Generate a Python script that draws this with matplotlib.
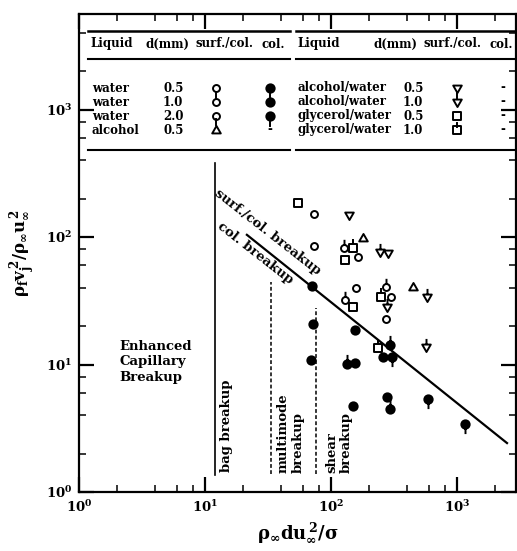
import math

import matplotlib
matplotlib.use("Agg")
import matplotlib.pyplot as plt
from matplotlib.lines import Line2D
from matplotlib.path import Path
from matplotlib.ticker import LogLocator, NullFormatter, FuncFormatter
from matplotlib.transforms import Affine2D

# ---- data (x = rho_g d u^2 / sigma, y = rho_f v_j^2 / rho_g u^2)
W05_SURF_X = [73.3, 73.3, 164, 158, 299, 273]
W05_SURF_Y = [151, 85, 70, 39.8, 33.8, 22.7]
W10_SURF_X = [127, 129, 273]
W10_SURF_Y = [82, 32, 40.5]
W05_COL_X = [70.7, 155, 259, 155, 69.4, 71.9, 278, 150]
W05_COL_Y = [41.3, 18.6, 11.5, 10.3, 10.8, 20.8, 5.56, 4.73]
W10_COL_X = [294, 134, 294]
W10_COL_Y = [14.2, 10.1, 4.48]
W20_COL_X = [305, 589, 1156]
W20_COL_Y = [11.5, 5.36, 3.41]
ALC05_X = [179, 448]
ALC05_Y = [98, 40.5]
AW05_X = [139, 283]
AW05_Y = [149, 75]
AW10_X = [245, 278, 578, 568]
AW10_Y = [76, 28.3, 33.8, 13.7]
GW05_X = [54.7, 129, 150]
GW05_Y = [185, 66, 28]
GW10_X = [150, 249, 236]
GW10_Y = [82, 33.8, 13.5]

BREAKUP_LINE_X = [21.5, 2494]
BREAKUP_LINE_Y = [104, 2.42]
BAG_X = 12.0
BAG_Y = [1.36, 380]
MULTI_LEFT_X = 33.4
MULTI_LEFT_Y = [1.38, 44.4]
MULTI_RIGHT_X = 76.0
MULTI_RIGHT_Y = [1.38, 27.7]

LEFT_LIQUIDS = ["water", "water", "water", "alcohol"]
LEFT_D = ["0.5", "1.0", "2.0", "0.5"]
LEFT_SURF = ["w05s", "w10s", "w20s", "alc"]
LEFT_COL = ["w05c", "w10c", "w20c", None]
RIGHT_LIQUIDS = ["alcohol/water", "alcohol/water", "glycerol/water", "glycerol/water"]
RIGHT_D = ["0.5", "1.0", "0.5", "1.0"]
RIGHT_SURF = ["aw05", "aw10", "gw05", "gw10"]

W, H = 517, 551
FONT = "DejaVu Serif"

plt.rcParams["font.family"] = FONT
plt.rcParams["font.weight"] = "bold"
plt.rcParams["mathtext.fontset"] = "dejavuserif"
plt.rcParams["mathtext.default"] = "bf"


def closed(verts):
    codes = [Path.MOVETO] + [Path.LINETO] * (len(verts) - 2) + [Path.CLOSEPOLY]
    return Path(verts, codes)


CIRCLE = Path.unit_circle()
TRI_UP = closed([(0, 1), (-0.95, -0.65), (0.95, -0.65), (0, 1)])
TRI_DN = closed([(0, -1), (-0.95, 0.65), (0.95, 0.65), (0, -1)])
SQUARE = closed([(-0.85, -0.85), (0.85, -0.85), (0.85, 0.85), (-0.85, 0.85), (-0.85, -0.85)])

# key -> (shape, filled, size, stem): stem = (start, end) in shape units, None = no stem
MARKERS = {
    "w05s": (CIRCLE, False, 5.0, None),
    "w10s": (CIRCLE, False, 5.0, (1, 2.5)),
    "w20s": (CIRCLE, False, 5.0, (-1, -2.5)),
    "w05c": (CIRCLE, True, 6.0, None),
    "w10c": (CIRCLE, True, 6.0, (1, 2.3)),
    "w20c": (CIRCLE, True, 6.0, (-1, -2.3)),
    "alc": (TRI_UP, False, 6.5, None),
    "aw05": (TRI_DN, False, 6.5, None),
    "aw10": (TRI_DN, False, 6.5, (0.65, 1.9)),
    "gw05": (SQUARE, False, 6.0, None),
    "gw10": (SQUARE, False, 6.0, (0.85, 2.1)),
}


def marker_kw(key, with_stem=True):
    shape, filled, size, st = MARKERS[key]
    path = shape
    if with_stem and st:
        path = Path.make_compound_path(
            shape, Path([(0, st[0]), (0, st[1])], [Path.MOVETO, Path.LINETO]))
    extent = abs(path.vertices).max()
    return dict(marker=path, markersize=size * extent, linestyle="none",
                markerfacecolor="black" if filled else "white",
                markeredgecolor="black", markeredgewidth=1.4)


fig = plt.figure(figsize=(W / 100, H / 100), dpi=100)
ax = fig.add_axes([79 / W, 1 - 492 / H, (516 - 79) / W, (492 - 14) / H])
px = Affine2D().scale(1 / W, -1 / H).translate(0, 1) + fig.transFigure


def legend_key(x, y, key):
    """Table symbol at image pixel (x, y); stem drawn as its own segment."""
    shape, filled, size, st = MARKERS[key]
    fig.add_artist(Line2D([x], [y], transform=px, zorder=5, **marker_kw(key, with_stem=False)))
    if st:
        half = size * fig.dpi / 72 / 2 * abs(shape.vertices).max()
        y0, y1 = y - st[0] * half, y - st[1] * half
        fig.add_artist(Line2D([x, x], [y0, y1], transform=px, color="black",
                              lw=1.4, zorder=5))


ax.set_xscale("log")
ax.set_yscale("log")
ax.set_xlim(1, 10 ** ((516 - 79) / 126))
ax.set_ylim(1, 10 ** ((492 - 14) / 127.5))

# regime boundaries
ax.plot(BREAKUP_LINE_X, BREAKUP_LINE_Y, color="black", lw=1.6, zorder=2)
ax.plot([BAG_X, BAG_X], BAG_Y, color="black", lw=1.2, zorder=2)
ax.plot([MULTI_LEFT_X] * 2, MULTI_LEFT_Y, color="black", lw=1.1, ls=(0, (2.5, 1.5)), zorder=2)
ax.plot([MULTI_RIGHT_X] * 2, MULTI_RIGHT_Y, color="black", lw=1.1, ls=(0, (2.5, 1.5)), zorder=2)

series = [
    (W05_SURF_X, W05_SURF_Y, "w05s"), (W10_SURF_X, W10_SURF_Y, "w10s"),
    (W05_COL_X, W05_COL_Y, "w05c"), (W10_COL_X, W10_COL_Y, "w10c"),
    (W20_COL_X, W20_COL_Y, "w20c"), (ALC05_X, ALC05_Y, "alc"),
    (AW05_X, AW05_Y, "aw05"), (AW10_X, AW10_Y, "aw10"),
    (GW05_X, GW05_Y, "gw05"), (GW10_X, GW10_Y, "gw10"),
]
for xs, ys, key in series:
    ax.plot(xs, ys, zorder=3, **marker_kw(key))

# region labels
ax.text(2.08, 10.5, "Enhanced\nCapillary\nBreakup", ha="left", va="center",
        fontsize=9.5, linespacing=1.25)
ax.text(13.2, 1.44, "bag breakup", rotation=90, ha="left", va="bottom", fontsize=9.5)
ax.text(37.3, 1.42, "multimode\nbreakup", rotation=90, ha="left", va="bottom",
        fontsize=9.5, linespacing=1.15)
ax.text(89.6, 1.40, "shear\nbreakup", rotation=90, ha="left", va="bottom",
        fontsize=9.5, linespacing=1.15)
ax.text(31.6, 110, "surf./col. breakup", rotation=-38, ha="center", va="center",
        fontsize=9.5, rotation_mode="anchor")
ax.text(25.0, 75, "col. breakup", rotation=-38, ha="center", va="center",
        fontsize=9.5, rotation_mode="anchor")

# axes styling
for side in ax.spines.values():
    side.set_linewidth(1.6)
ax.xaxis.set_minor_locator(LogLocator(base=10, subs=[2, 4, 6, 8]))
ax.yaxis.set_minor_locator(LogLocator(base=10, subs=[2, 4, 6, 8]))
ax.xaxis.set_minor_formatter(NullFormatter())
ax.yaxis.set_minor_formatter(NullFormatter())
fmt = FuncFormatter(lambda v, _: r"$\mathbf{10^{%d}}$" % round(math.log10(v)))
ax.xaxis.set_major_formatter(fmt)
ax.yaxis.set_major_formatter(fmt)
ax.tick_params(which="both", direction="in", top=True, right=True, labelsize=9.5)
ax.tick_params(which="major", length=11, width=1.6, pad=5)
ax.tick_params(which="minor", length=5, width=1.1)
ax.set_xlabel(r"$\rho_\infty du_\infty^{\,2}/\sigma$", fontsize=13, labelpad=4)
ax.set_ylabel(r"$\rho_f v_j^{\,2}/\rho_\infty u_\infty^{\,2}$", fontsize=12, labelpad=6)

# ---- table legend inside the plot (image pixel coordinates)
TS = 8.5
for x0, x1 in [(88, 290), (296, 517)]:
    for yy, lw in [(31, 1.8), (59, 1.5), (150, 1.5)]:
        fig.add_artist(Line2D([x0, x1], [yy, yy], transform=px, color="black", lw=lw))

for x, s in [(90, "Liquid"), (145, "d(mm)"), (195, "surf./col."), (262, "col."),
             (297, "Liquid"), (373, "d(mm)"), (423, "surf./col."), (490, "col.")]:
    fig.text(x, 44, s, transform=px, ha="left", va="center", fontsize=TS)

row_y = [88, 102, 116, 130]
for i, y in enumerate(row_y):
    fig.text(92, y, LEFT_LIQUIDS[i], transform=px, ha="left", va="center", fontsize=TS)
    fig.text(163, y, LEFT_D[i], transform=px, ha="left", va="center", fontsize=TS)
    legend_key(216, y, LEFT_SURF[i])
    if LEFT_COL[i]:
        legend_key(270, y, LEFT_COL[i])
    else:
        fig.text(270, y, "-", transform=px, ha="center", va="center", fontsize=TS)

    fig.text(297, y, RIGHT_LIQUIDS[i], transform=px, ha="left", va="center", fontsize=TS)
    fig.text(403, y, RIGHT_D[i], transform=px, ha="left", va="center", fontsize=TS)
    legend_key(457, y, RIGHT_SURF[i])
    fig.text(503, y, "-", transform=px, ha="center", va="center", fontsize=TS)

fig.savefig("out.png", dpi=100)
